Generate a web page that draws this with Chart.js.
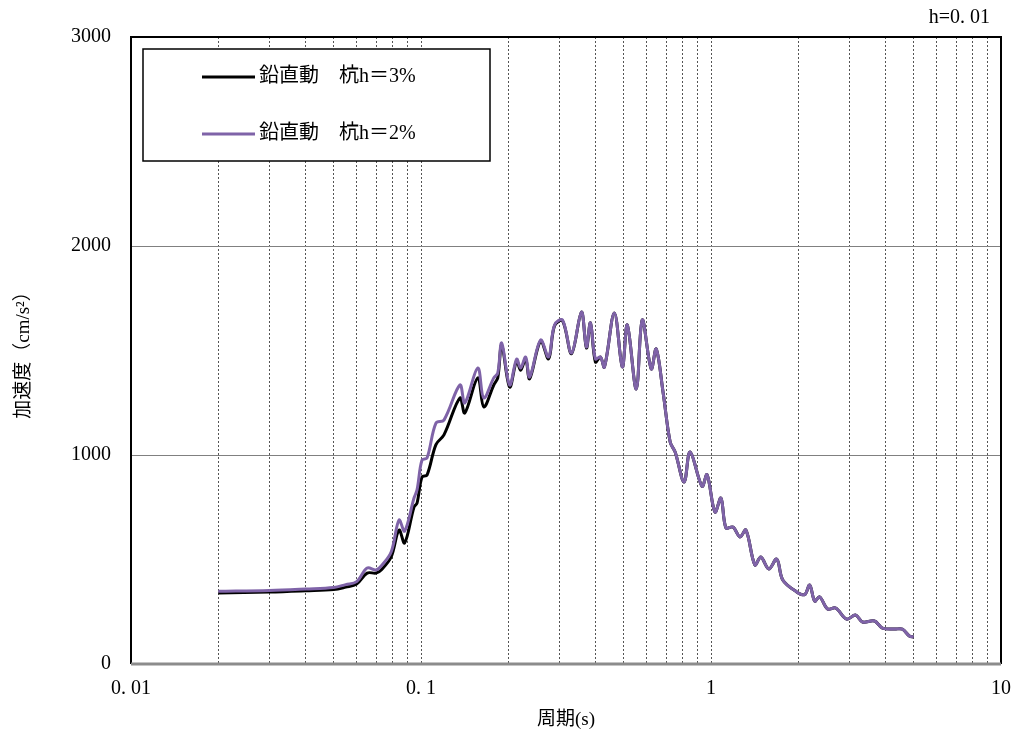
<!DOCTYPE html>
<html>
<head>
<meta charset="utf-8">
<script src="https://cdn.jsdelivr.net/npm/chart.js@4/dist/chart.umd.min.js"></script>
<style>
  html, body { margin: 0; padding: 0; background: #fff; }
  #wrap { width: 1024px; height: 742px; position: relative; }
</style>
</head>
<body>
<div id="wrap"><canvas id="spectrumChart"></canvas></div>
<script>
// 周期 (s)
const periods = [0.02, 0.03, 0.04, 0.05, 0.055, 0.06, 0.0652, 0.07, 0.0729, 0.0789, 0.084, 0.0878,
  0.0946, 0.0969, 0.1008, 0.1049, 0.1126, 0.12, 0.1362, 0.1416, 0.157, 0.1646, 0.1782, 0.1839,
  0.1898, 0.2022, 0.2137, 0.2206, 0.2296, 0.2369, 0.2585, 0.2754, 0.2887, 0.3076, 0.3304, 0.3575,
  0.3719, 0.3839, 0.3994, 0.4155, 0.429, 0.4642, 0.4946, 0.5144, 0.5524, 0.5795, 0.6221, 0.6471,
  0.684, 0.7231, 0.7522, 0.8076, 0.847, 0.9313, 0.9689, 1.032, 1.082, 1.126, 1.19, 1.259, 1.319,
  1.417, 1.485, 1.582, 1.686, 1.768, 1.975, 2.104, 2.189, 2.278, 2.37, 2.525, 2.69, 2.935, 3.15,
  3.33, 3.661, 3.9, 4.289, 4.569, 4.829, 5.0];

// 加速度 (cm/s2), 杭h=3%
const accelH3 = [340, 344, 350, 356, 368, 383, 435, 435, 450, 512, 641, 579,
  751, 770, 895, 904, 1050, 1096, 1273, 1201, 1369, 1230, 1335, 1369,
  1525, 1325, 1450, 1405, 1460, 1365, 1545, 1460, 1618, 1642, 1485, 1684,
  1512, 1632, 1445, 1469, 1421, 1680, 1421, 1622, 1316, 1646, 1412, 1507,
  1297, 1062, 1014, 871, 1014, 850, 906, 727, 794, 651, 655, 608, 641,
  474, 512, 455, 502, 402, 345, 332, 378, 301, 321, 263, 268, 215, 234,
  201, 206, 172, 167, 167, 134, 129];

// 加速度 (cm/s2), 杭h=2%
const accelH2 = [348, 352, 359, 366, 380, 394, 459, 450, 469, 536, 689, 636,
  794, 833, 976, 986, 1153, 1167, 1335, 1249, 1416, 1273, 1369, 1392,
  1536, 1335, 1459, 1416, 1469, 1373, 1550, 1469, 1622, 1646, 1488, 1684,
  1517, 1632, 1460, 1469, 1421, 1680, 1421, 1622, 1316, 1646, 1412, 1507,
  1297, 1062, 1014, 871, 1014, 850, 906, 727, 794, 651, 655, 608, 641,
  474, 512, 455, 502, 402, 345, 332, 378, 301, 321, 263, 268, 215, 234,
  201, 206, 172, 167, 167, 134, 129];

const seriesLabels = ['鉛直動　杭h＝3%', '鉛直動　杭h＝2%'];
const seriesColors = ['#000000', '#7f63a8'];

const xGridValues = [0.01, 0.02, 0.03, 0.04, 0.05, 0.06, 0.07, 0.08, 0.09,
  0.1, 0.2, 0.3, 0.4, 0.5, 0.6, 0.7, 0.8, 0.9,
  1, 2, 3, 4, 5, 6, 7, 8, 9, 10];
const xLabelValues = [0.01, 0.1, 1, 10];
const xLabelTexts = ['0. 01', '0. 1', '1', '10'];
const yTickValues = [0, 1000, 2000, 3000];

const dampingNote = 'h=0. 01';
const serif = "'Liberation Serif', 'DejaVu Serif', 'Noto Sans CJK JP', serif";

const toXY = vals => periods.map((t, i) => ({ x: t, y: vals[i] }));

// frame, legend box and the h= note
const decorations = {
    id: 'decorations',
    afterDraw(chart) {
        const { ctx, chartArea: a } = chart;
        ctx.save();

        // plot frame
        ctx.strokeStyle = '#000';
        ctx.lineWidth = 2;
        ctx.beginPath();
        ctx.moveTo(a.left, a.bottom);
        ctx.lineTo(a.left, a.top);
        ctx.lineTo(a.right, a.top);
        ctx.lineTo(a.right, a.bottom);
        ctx.stroke();
        ctx.strokeStyle = '#8c8c8c';
        ctx.lineWidth = 3;
        ctx.beginPath();
        ctx.moveTo(a.left, a.bottom);
        ctx.lineTo(a.right, a.bottom);
        ctx.stroke();

        // legend box
        const bx = a.left + 12, by = a.top + 12, bw = 347, bh = 112;
        ctx.fillStyle = '#fff';
        ctx.fillRect(bx, by, bw, bh);
        ctx.strokeStyle = '#000';
        ctx.lineWidth = 1.5;
        ctx.strokeRect(bx, by, bw, bh);
        ctx.font = "20px " + serif;
        ctx.textBaseline = 'middle';
        ctx.textAlign = 'left';
        seriesLabels.forEach((lab, i) => {
            const ly = by + 28 + i * 57;
            ctx.strokeStyle = seriesColors[i];
            ctx.lineWidth = 3;
            ctx.beginPath();
            ctx.moveTo(bx + 59, ly);
            ctx.lineTo(bx + 112, ly);
            ctx.stroke();
            ctx.fillStyle = '#000';
            ctx.fillText(lab, bx + 116, ly);
        });

        // damping note above the plot
        ctx.textAlign = 'right';
        ctx.fillText(dampingNote, a.right - 11, a.top - 19);
        ctx.restore();
    }
};

new Chart(document.getElementById('spectrumChart').getContext('2d'), {
    type: 'line',
    data: {
        datasets: [
            {
                label: seriesLabels[0],
                data: toXY(accelH3),
                borderColor: seriesColors[0],
                borderWidth: 3,
                pointRadius: 0,
                tension: 0.35,
                order: 1
            },
            {
                label: seriesLabels[1],
                data: toXY(accelH2),
                borderColor: seriesColors[1],
                borderWidth: 3,
                pointRadius: 0,
                tension: 0.35,
                order: 0
            }
        ]
    },
    options: {
        responsive: true,
        maintainAspectRatio: false,
        animation: false,
        layout: { padding: { top: 37, right: 21, left: 0, bottom: 0 } },
        plugins: {
            legend: { display: false },
            tooltip: { enabled: false }
        },
        scales: {
            x: {
                type: 'logarithmic',
                min: 0.01,
                max: 10,
                afterBuildTicks: scale => {
                    scale.ticks = xGridValues.map(v => ({ value: v }));
                },
                afterFit: scale => { scale.height = 78; },
                ticks: {
                    autoSkip: false,
                    maxRotation: 0,
                    padding: 13,
                    color: '#000',
                    font: { family: serif, size: 20 },
                    callback: value => {
                        const k = xLabelValues.findIndex(v => Math.abs(v - value) / v < 1e-6);
                        return k >= 0 ? xLabelTexts[k] : '';
                    }
                },
                grid: {
                    color: '#555',
                    lineWidth: 1,
                    drawTicks: false
                },
                border: { display: false, dash: [2, 2] },
                title: {
                    display: true,
                    text: '周期(s)',
                    color: '#000',
                    font: { family: serif, size: 19 },
                    padding: { top: 0, bottom: 11 }
                }
            },
            y: {
                min: 0,
                max: 3000,
                afterBuildTicks: scale => {
                    scale.ticks = yTickValues.map(v => ({ value: v }));
                },
                afterFit: scale => { scale.width = 131; },
                ticks: {
                    padding: 20,
                    color: '#000',
                    font: { family: serif, size: 20 },
                    callback: value => String(value)
                },
                grid: {
                    color: '#808080',
                    lineWidth: 1,
                    drawTicks: false
                },
                border: { display: false },
                title: {
                    display: true,
                    text: '加速度（cm/s²）',
                    color: '#000',
                    font: { family: serif, size: 19 },
                    padding: { top: 13, bottom: 0 }
                }
            }
        }
    },
    plugins: [decorations]
});
</script>
</body>
</html>
